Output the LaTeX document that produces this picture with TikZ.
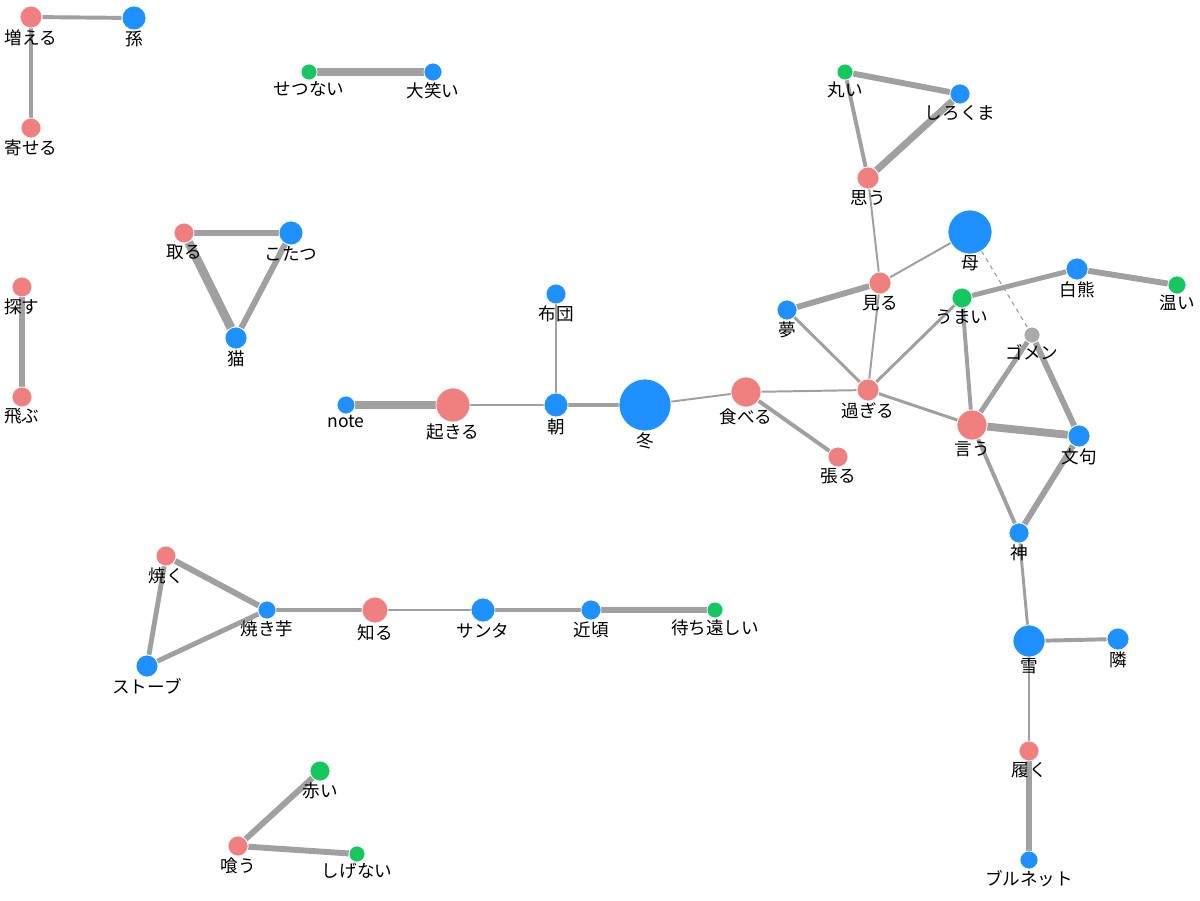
\documentclass[tikz,border=0pt]{standalone}
\usepackage{fontspec}
\setmainfont{Noto Sans CJK JP}
\usepackage{tikz}
\usetikzlibrary{positioning, backgrounds}

\definecolor{vred}{RGB}{240,128,128}
\definecolor{vblue}{RGB}{30,144,255}
\definecolor{vgreen}{RGB}{20,200,95}
\definecolor{vgray}{RGB}{170,170,170}
\definecolor{lkgray}{RGB}{160,160,160}

\begin{document}
\begin{tikzpicture}[
    x=0.025cm, y=-0.025cm,
    dot/.style={circle, draw=white, line width=0.5pt, inner sep=0pt, minimum size={#1*0.05cm}},
    rd/.style={dot=#1, fill=vred},
    bl/.style={dot=#1, fill=vblue},
    gr/.style={dot=#1, fill=vgreen},
    gy/.style={dot=#1, fill=vgray},
    lbl/.style={font=\fontsize{12.5}{14}\selectfont, inner sep=0pt, text=black},
    label distance=0.5pt,
    lk/.style={draw=lkgray, line width={#1*0.7pt}}
]
\useasboundingbox (0,0) rectangle (1200,900);

% Nodes
\node (fueru) [rd=11, label={[lbl]below:増える}] at (31,17) {};
\node (mago) [bl=12, label={[lbl]below:孫}] at (134,18) {};
\node (yoseru) [rd=10, label={[lbl]below:寄せる}] at (31,128) {};

\node (setsunai) [gr=8, label={[lbl]below:せつない}] at (309,72) {};
\node (oowarai) [bl=9, label={[lbl]below:大笑い}] at (433,72) {};

\node (sagasu) [rd=10, label={[lbl]below:探す}] at (22,287) {};
\node (tobu) [rd=10, label={[lbl]below:飛ぶ}] at (22,397) {};

\node (toru) [rd=10, label={[lbl]below:取る}] at (184,233) {};
\node (kotatsu) [bl=12, label={[lbl]below:こたつ}] at (291,233) {};
\node (neko) [bl=11, label={[lbl]below:猫}] at (236,338) {};

\node (note) [bl=9, label={[lbl]below:note}] at (346,405) {};
\node (okiru) [rd=17, label={[lbl]below:起きる}] at (453,405) {};
\node (asa) [bl=12, label={[lbl]below:朝}] at (556,405) {};
\node (futon) [bl=10, label={[lbl]below:布団}] at (556,294) {};
\node (fuyu) [bl=26, label={[lbl]below:冬}] at (645,405) {};
\node (taberu) [rd=15, label={[lbl]below:食べる}] at (746,392) {};
\node (haru) [rd=10, label={[lbl]below:張る}] at (838,457) {};

\node (sugiru) [rd=11, label={[lbl]below:過ぎる}] at (868,390) {};
\node (yume) [bl=10, label={[lbl]below:夢}] at (787,310) {};
\node (miru) [rd=11, label={[lbl]below:見る}] at (880,283) {};
\node (omou) [rd=11, label={[lbl]below:思う}] at (868,178) {};
\node (marui) [gr=8, label={[lbl]below:丸い}] at (845,72) {};
\node (shirokuma) [bl=10, label={[lbl]below:しろくま}] at (960,94) {};
\node (haha) [bl=22, label={[lbl]below:母}] at (970,232) {};
\node (umai) [gr=10, label={[lbl]below:うまい}] at (962,298) {};
\node (hakuyu) [bl=11, label={[lbl]below:白熊}] at (1077,269) {};
\node (nurui) [gr=9, label={[lbl]below:温い}] at (1177,285) {};
\node (gomen) [gy=8, label={[lbl]below:ゴメン}] at (1032,335) {};
\node (iu) [rd=15, label={[lbl]below:言う}] at (972,425) {};
\node (monku) [bl=11, label={[lbl]below:文句}] at (1079,436) {};
\node (kami) [bl=10, label={[lbl]below:神}] at (1019,533) {};
\node (yuki) [bl=16, label={[lbl]below:雪}] at (1029,641) {};
\node (tonari) [bl=11, label={[lbl]below:隣}] at (1118,639) {};
\node (haku) [rd=10, label={[lbl]below:履く}] at (1029,751) {};
\node (brunette) [bl=9, label={[lbl]below:ブルネット}] at (1029,860) {};

\node (yaku) [rd=10, label={[lbl]below:焼く}] at (166,556) {};
\node (yakiimo) [bl=9, label={[lbl]below:焼き芋}] at (267,610) {};
\node (stove) [bl=11, label={[lbl]below:ストーブ}] at (147,666) {};
\node (shiru) [rd=13, label={[lbl]below:知る}] at (375,610) {};
\node (santa) [bl=12, label={[lbl]below:サンタ}] at (483,610) {};
\node (chikagoro) [bl=10, label={[lbl]below:近頃}] at (591,610) {};
\node (machido) [gr=8, label={[lbl]below:待ち遠しい}] at (715,610) {};

\node (akai) [gr=10, label={[lbl]below:赤い}] at (320,771) {};
\node (kuu) [rd=10, label={[lbl]below:喰う}] at (238,846) {};
\node (shigenai) [gr=8, label={[lbl]below:しげない}] at (357,854) {};

% Links
\begin{scope}[on background layer]
\draw [lk=4] (fueru) -- (mago);
\draw [lk=5] (fueru) -- (yoseru);
\draw [lk=8] (setsunai) -- (oowarai);
\draw [lk=7] (sagasu) -- (tobu);
\draw [lk=6] (toru) -- (kotatsu);
\draw [lk=9] (toru) -- (neko);
\draw [lk=6] (kotatsu) -- (neko);

\draw [lk=8] (note) -- (okiru);
\draw [lk=3] (okiru) -- (asa);
\draw [lk=3] (asa) -- (futon);
\draw [lk=5] (asa) -- (fuyu);
\draw [lk=2] (fuyu) -- (taberu);
\draw [lk=2] (taberu) -- (sugiru);
\draw [lk=4] (taberu) -- (haru);

\draw [lk=3] (sugiru) -- (yume);
\draw [lk=2] (sugiru) -- (miru);
\draw [lk=3] (sugiru) -- (umai);
\draw [lk=3] (sugiru) -- (iu);
\draw [lk=6] (yume) -- (miru);
\draw [lk=2] (miru) -- (omou);
\draw [lk=2] (miru) -- (haha);
\draw [lk=4] (omou) -- (marui);
\draw [lk=7] (omou) -- (shirokuma);
\draw [lk=6] (marui) -- (shirokuma);
\draw [lk=1.2, dashed] (haha) -- (gomen);
\draw [lk=5] (umai) -- (hakuyu);
\draw [lk=6] (hakuyu) -- (nurui);
\draw [lk=4] (umai) -- (iu);
\draw [lk=5] (gomen) -- (iu);
\draw [lk=6] (gomen) -- (monku);
\draw [lk=8] (iu) -- (monku);
\draw [lk=4] (iu) -- (kami);
\draw [lk=6] (monku) -- (kami);
\draw [lk=3] (kami) -- (yuki);
\draw [lk=4] (yuki) -- (tonari);
\draw [lk=2] (yuki) -- (haku);
\draw [lk=6] (haku) -- (brunette);

\draw [lk=6] (yaku) -- (yakiimo);
\draw [lk=5] (yaku) -- (stove);
\draw [lk=5] (stove) -- (yakiimo);
\draw [lk=4] (yakiimo) -- (shiru);
\draw [lk=2] (shiru) -- (santa);
\draw [lk=4] (santa) -- (chikagoro);
\draw [lk=7] (chikagoro) -- (machido);

\draw [lk=6] (akai) -- (kuu);
\draw [lk=6] (kuu) -- (shigenai);
\end{scope}

\end{tikzpicture}
\end{document}
